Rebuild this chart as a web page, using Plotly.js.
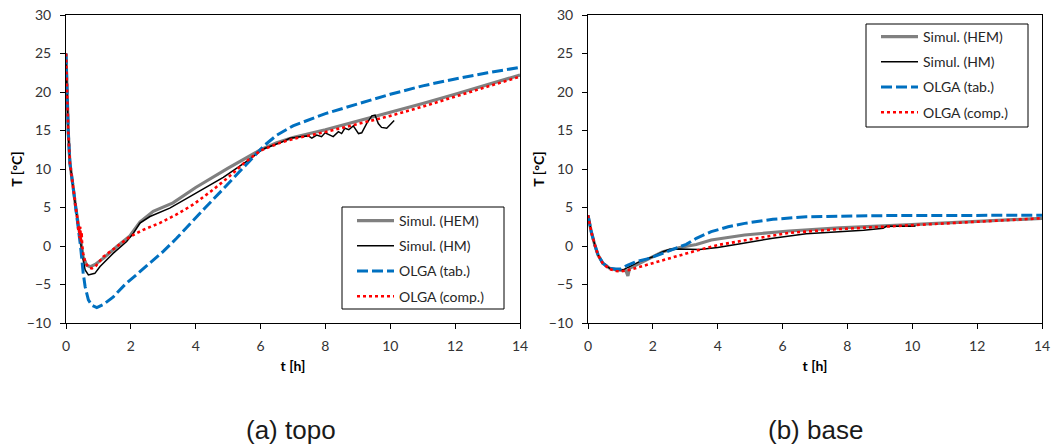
<!DOCTYPE html>
<html>
<head>
<meta charset="utf-8">
<script src="https://cdn.plot.ly/plotly-3.0.1.min.js"></script>
<style>
  html, body { margin: 0; padding: 0; background: #fff; }
  #chart { width: 1051px; height: 445px; }
</style>
</head>
<body>
<div id="chart"></div>
<script>
// ---- (a) topo : temperature history at the top ----
const topoTimeHEM = [0, 0.03, 0.07, 0.12, 0.18, 0.24, 0.3, 0.37, 0.45, 0.53, 0.64, 0.75, 0.9, 1.15, 1.56, 1.97, 2.28, 2.69, 3.3, 4.0, 5.0, 6.0, 6.5, 7, 8, 9, 10, 11, 12, 13, 14];
const topoHEM     = [25, 19, 14.8, 10.8, 8.5, 7.0, 5.0, 3.0, 0.8, -1.4, -2.5, -2.7, -2.4, -1.6, -0.1, 1.3, 3.1, 4.5, 5.6, 7.6, 10.1, 12.5, 13.4, 14.1, 15.1, 16.2, 17.3, 18.5, 19.7, 20.9, 22.2];

const topoTimeHM = [0, 0.03, 0.07, 0.12, 0.18, 0.24, 0.3, 0.37, 0.45, 0.52, 0.59, 0.69, 0.89, 1.05, 1.46, 1.87, 2.08, 2.28, 2.59, 3.2, 3.82, 4.85, 5.57, 6.08, 6.6, 6.9, 7.22, 7.47, 7.58, 7.73, 7.88, 7.99, 8.14, 8.24, 8.4, 8.5, 8.6, 8.72, 8.86, 9.02, 9.12, 9.27, 9.43, 9.53, 9.63, 9.73, 9.89, 9.99, 10.12];
const topoHM     = [25, 19, 14.8, 10.8, 8.5, 7.0, 5.0, 2.8, 0.2, -1.6, -3.1, -3.75, -3.55, -2.66, -0.93, 0.58, 1.67, 2.97, 3.83, 4.91, 6.4, 8.9, 11.0, 12.6, 13.4, 14.0, 14.2, 14.3, 14.0, 14.4, 14.2, 14.7, 14.4, 14.2, 14.85, 14.6, 15.3, 15.1, 15.6, 14.6, 14.7, 15.9, 16.9, 17.0, 15.9, 15.4, 15.3, 15.7, 16.3];

const topoTimeTab = [0, 0.03, 0.07, 0.12, 0.18, 0.24, 0.3, 0.37, 0.45, 0.53, 0.59, 0.69, 0.8, 0.95, 1.15, 1.46, 1.82, 2.18, 2.59, 3.0, 3.41, 3.82, 4.3, 4.8, 5.3, 5.8, 6.1, 6.5, 7.0, 8, 9, 10, 11, 12, 13, 14];
const topoTab     = [25, 19, 14.8, 10.8, 8.5, 7.0, 5.0, 2.8, -0.1, -3.5, -5.3, -7.0, -7.7, -8.0, -7.6, -6.6, -5.0, -3.7, -2.2, -0.7, 1.0, 2.9, 5.0, 7.2, 9.4, 11.7, 13.0, 14.4, 15.6, 17.2, 18.5, 19.7, 20.8, 21.7, 22.5, 23.2];

const topoTimeComp = [0, 0.03, 0.07, 0.12, 0.18, 0.24, 0.3, 0.36, 0.38, 0.4, 0.42, 0.44, 0.46, 0.48, 0.5, 0.53, 0.6, 0.7, 0.8, 0.9, 1.15, 1.56, 1.97, 2.38, 2.9, 3.41, 3.93, 4.5, 5.0, 5.5, 6.0, 6.6, 7.0, 8, 9, 10, 11, 12, 13, 14];
const topoComp     = [25, 19, 14.8, 10.8, 8.5, 7.0, 5.0, 3.4, 2.0, 2.6, 1.0, 2.5, 0.5, 1.8, 0.0, -1.0, -2.2, -2.8, -2.9, -2.7, -1.4, -0.1, 1.2, 2.1, 3.0, 4.1, 5.4, 7.2, 8.9, 10.8, 12.4, 13.4, 13.9, 14.8, 15.8, 16.9, 18.1, 19.4, 20.7, 22.0];

// ---- (b) base : temperature history at the base ----
const baseTimeHEM = [0, 0.05, 0.1, 0.21, 0.31, 0.46, 0.67, 0.87, 1.08, 1.17, 1.23, 1.28, 1.59, 1.9, 2.31, 2.83, 3.34, 3.8, 4.83, 6.2, 7.74, 9.82, 11.05, 12.5, 14];
const baseHEM     = [4.0, 2.8, 1.86, 0.13, -1.17, -2.25, -2.9, -3.1, -3.1, -3.2, -3.9, -2.9, -2.25, -1.6, -0.74, -0.2, 0.2, 0.78, 1.43, 1.95, 2.35, 2.75, 3.0, 3.3, 3.6];

const baseTimeHM = [0, 0.05, 0.1, 0.21, 0.31, 0.46, 0.67, 0.87, 1.08, 1.28, 1.6, 2.0, 2.31, 2.52, 2.83, 3.44, 4.0, 4.7, 5.7, 6.73, 7.76, 8.5, 9.1, 9.2, 10.02, 10.1];
const baseHM     = [4.0, 2.8, 1.86, 0.13, -1.17, -2.25, -2.9, -3.1, -3.1, -2.68, -2.0, -1.39, -0.74, -0.43, -0.4, -0.45, -0.2, 0.3, 1.0, 1.6, 1.86, 2.05, 2.3, 2.55, 2.55, 2.6];

const baseTimeTab = [0, 0.05, 0.1, 0.21, 0.31, 0.46, 0.67, 0.87, 1.0, 1.23, 1.49, 1.9, 2.31, 2.72, 3.03, 3.34, 3.8, 4.32, 4.83, 5.7, 6.73, 8.79, 10.85, 14];
const baseTab     = [4.0, 2.8, 1.86, 0.13, -1.17, -2.25, -2.9, -3.0, -3.0, -2.47, -2.03, -1.6, -0.95, -0.3, 0.22, 1.0, 1.86, 2.5, 2.94, 3.47, 3.8, 3.94, 4.0, 4.0];

const baseTimeComp = [0, 0.05, 0.1, 0.21, 0.31, 0.46, 0.67, 0.87, 1.0, 1.28, 1.8, 2.31, 2.83, 3.34, 4.0, 4.73, 6.2, 7.74, 9.82, 10.85, 14];
const baseComp     = [4.0, 2.8, 1.86, 0.13, -1.17, -2.3, -3.0, -3.25, -3.3, -3.1, -2.47, -1.82, -1.17, -0.6, 0.13, 0.65, 1.7, 2.2, 2.65, 2.94, 3.6];

const seriesNames = ['Simul. (HEM)', 'Simul. (HM)', 'OLGA (tab.)', 'OLGA (comp.)'];
const panelCaptions = ['(a) topo', '(b) base'];
const xTickValues = [0, 2, 4, 6, 8, 10, 12, 14];
const yTickValues = [-10, -5, 0, 5, 10, 15, 20, 25, 30];

// line styles for the four series
const styles = [
  {color: '#808080', width: 3.2},
  {color: '#000000', width: 1.5},
  {color: '#0070C0', width: 3, dash: '11px,4px'},
  {color: '#FF0000', width: 2.6, dash: 'dot'}
];

function makeTraces(times, values, xa, ya, legendId) {
  return values.map((v, i) => ({
    type: 'scatter', mode: 'lines',
    x: times[i], y: v,
    xaxis: xa, yaxis: ya,
    name: seriesNames[i],
    legend: legendId,
    legendgroup: legendId + '_' + i,
    line: Object.assign({}, styles[i]),
    hoverinfo: 'x+y+name'
  }));
}

const traces = [].concat(
  makeTraces([topoTimeHEM, topoTimeHM, topoTimeTab, topoTimeComp],
             [topoHEM, topoHM, topoTab, topoComp], 'x', 'y', 'legend'),
  makeTraces([baseTimeHEM, baseTimeHM, baseTimeTab, baseTimeComp],
             [baseHEM, baseHM, baseTab, baseComp], 'x2', 'y2', 'legend2')
);

const W = 1051, H = 445;
const tickFont = {family: 'Lato, "Open Sans", sans-serif', size: 14, color: '#333333'};
const titleFont = {family: 'Lato, "Open Sans", sans-serif', size: 14, color: '#000000', weight: 'bold'};

function xAxis(domain, anchor) {
  return {
    domain: domain, anchor: anchor, range: [0, 14],
    tickvals: xTickValues, ticks: 'outside', ticklen: 5, tickcolor: '#000',
    ticklabelstandoff: 5,
    showline: true, mirror: true, linecolor: '#000', linewidth: 1,
    showgrid: false, zeroline: false, tickfont: tickFont,
    title: {text: '<b>t [h]</b>', font: titleFont, standoff: 8}
  };
}
function yAxis(anchor) {
  return {
    domain: [(H - 323) / H, (H - 15) / H], anchor: anchor, range: [-10, 30],
    tickvals: yTickValues, ticks: 'outside', ticklen: 5, tickcolor: '#000',
    ticklabelstandoff: 6,
    showline: true, mirror: true, linecolor: '#000', linewidth: 1,
    showgrid: false, zeroline: false, tickfont: tickFont,
    title: {text: '<b>T [°C]</b>', font: titleFont, standoff: 0}
  };
}

const legendFont = {family: 'Lato, "Open Sans", sans-serif', size: 14, color: '#262626'};
function legendBox(x, y) {
  return {
    x: x / W, y: 1 - y / H, xanchor: 'left', yanchor: 'top',
    bgcolor: 'rgba(0,0,0,0)', borderwidth: 0,
    font: legendFont, tracegroupgap: 4, traceorder: 'grouped', itemwidth: 37
  };
}
function frame(x0, y0, x1, y1) {
  return {type: 'rect', xref: 'paper', yref: 'paper',
          x0: x0 / W, x1: x1 / W, y0: 1 - y1 / H, y1: 1 - y0 / H,
          line: {color: '#000', width: 1}, fillcolor: 'rgba(0,0,0,0)', layer: 'above'};
}

const captionFont = {family: '"Liberation Sans", Arial, sans-serif', size: 26, color: '#1a1a1a'};

const layout = {
  width: W, height: H,
  margin: {l: 0, r: 0, t: 0, b: 0},
  paper_bgcolor: '#fff', plot_bgcolor: '#fff',
  showlegend: true,
  xaxis: xAxis([66 / W, 520 / W], 'y'),
  yaxis: yAxis('x'),
  xaxis2: xAxis([588 / W, 1042 / W], 'y2'),
  yaxis2: yAxis('x2'),
  legend: legendBox(352, 205),
  legend2: legendBox(876, 21),
  shapes: [frame(342, 207, 504, 309), frame(866, 24, 1028, 127)],
  annotations: [
    {text: panelCaptions[0], xref: 'paper', yref: 'paper', x: 291 / W, y: 1 - 430 / H,
     xanchor: 'center', yanchor: 'middle', showarrow: false, font: captionFont},
    {text: panelCaptions[1], xref: 'paper', yref: 'paper', x: 815 / W, y: 1 - 430 / H,
     xanchor: 'center', yanchor: 'middle', showarrow: false, font: captionFont}
  ]
};

Plotly.newPlot('chart', traces, layout, {staticPlot: true, displayModeBar: false});
</script>
</body>
</html>
